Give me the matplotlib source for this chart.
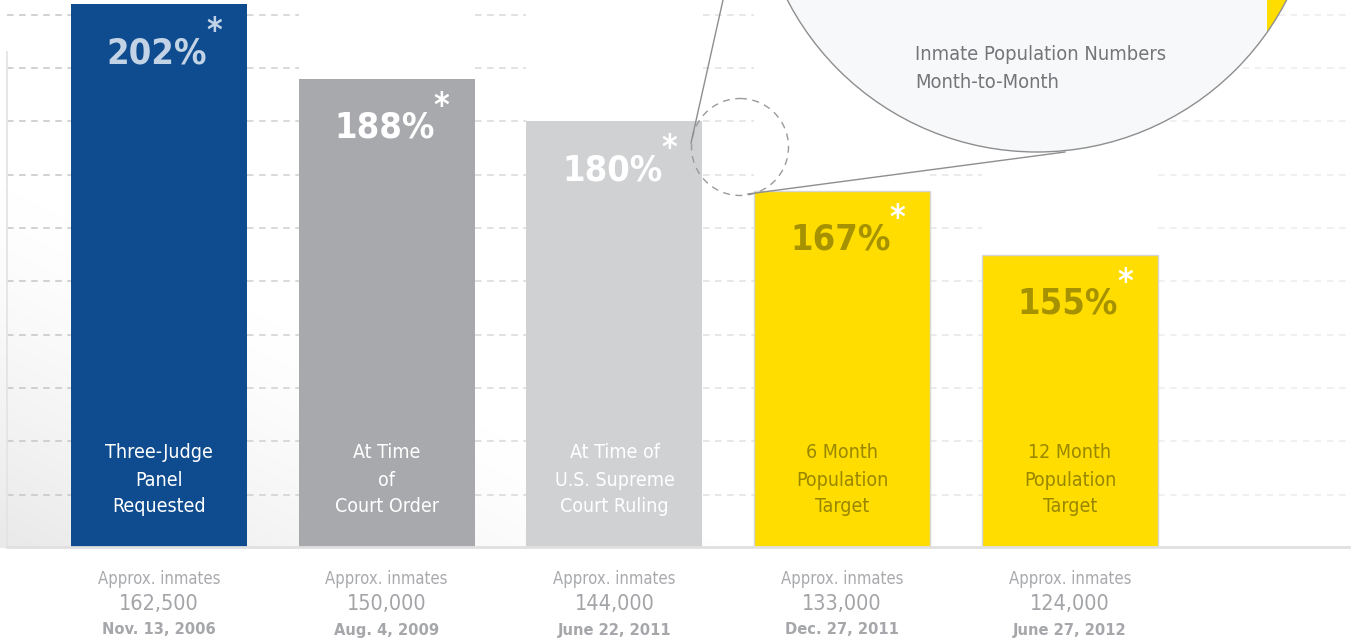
import matplotlib
matplotlib.use('Agg')
import numpy as np
import matplotlib.pyplot as plt
from matplotlib import transforms
from matplotlib.patches import Circle, Rectangle

# data
names = [["Three-Judge", "Panel", "Requested"],
         ["At Time", "of", "Court Order"],
         ["At Time of", "U.S. Supreme", "Court Ruling"],
         ["6 Month", "Population", "Target"],
         ["12 Month", "Population", "Target"]]
pct = [202, 188, 180, 167, 155]
inmates = ["162,500", "150,000", "144,000", "133,000", "124,000"]
dates = ["Nov. 13, 2006", "Aug. 4, 2009", "June 22, 2011", "Dec. 27, 2011", "June 27, 2012"]
grid_levels = [110, 120, 130, 140, 150, 160, 170, 180, 190, 200]

bar_colors = ['#0e4c8f', '#a8a9ac', '#d0d1d3', '#ffdd00', '#ffdd00']
pct_colors = ['#c3d3e6', 'white', 'white', '#a69200', '#a69200']
star_colors = ['#c3d3e6', 'white', 'white', 'white', 'white']
name_colors = ['white', 'white', 'white', '#9a8700', '#9a8700']

plt.rcParams['font.family'] = ['DejaVu Sans']
plt.rcParams['font.stretch'] = 'condensed'

W, H = 1351, 641
STEP = 227.75  # pixels between bar centres
PPU = 5.333    # pixels per percent

fig = plt.figure(figsize=(W / 100, H / 100), dpi=100)
ax = fig.add_axes([0, 93 / H, 1, 548 / H])
x0, x1 = -159 / STEP, (W - 159) / STEP
ytop = 100 + 548 / PPU
ax.set_xlim(x0, x1)
ax.set_ylim(100, ytop)
ax.axis('off')

# overlay in pixel coordinates (y down)
ov = fig.add_axes([0, 0, 1, 1], zorder=5)
ov.set_xlim(0, W)
ov.set_ylim(H, 0)
ov.axis('off')
ov.patch.set_alpha(0)

# background gradient, grey at bottom-left
px = np.linspace(0, W, 400)
py = np.linspace(0, 548, 200)
PX, PY = np.meshgrid(px, py)
d = np.clip(1 - (PX / 720 + (548 - PY) / 360), 0, 1) ** 1.3
shade = 1 - 0.085 * d
img = np.dstack([shade, shade, shade])
ax.imshow(img, extent=[x0, x1, 100, ytop], origin='upper',
          aspect='auto', zorder=0)

xs = np.arange(len(pct))
bw = 176 / STEP

# dashed grid lines in the gaps, fading to the right
gaps = [((7 - 159) / STEP, xs[0] - bw / 2)]
for i in range(len(xs) - 1):
    gaps.append((xs[i] + bw / 2, xs[i + 1] - bw / 2))
gaps.append((xs[-1] + bw / 2, x1))
gap_cols = ['#c6c6c6', '#d0d0d0', '#d8d8d8', '#e0e0e0', '#e6e6e6', '#ececec']
for (a, b), c in zip(gaps, gap_cols):
    ax.hlines(grid_levels, a, b, colors=c, linestyles=(0, (4.3, 3.6)), lw=1.1, zorder=1)

# axis lines
ax.plot([(7 - 159) / STEP] * 2, [100, 193], color='#e4e4e4', lw=1.3, zorder=1)
ax.plot([(7 - 159) / STEP, x1], [100.2, 100.2], color='#e0e0e0', lw=2, zorder=4, clip_on=False)

bars = ax.bar(xs, pct, width=bw, color=bar_colors, zorder=3)
for b in bars[3:]:
    b.set_edgecolor('#d6d6d6')
    b.set_linewidth(1)

yfix = transforms.blended_transform_factory(ax.transData, ov.transData)

for i, p in enumerate(pct):
    tr = transforms.offset_copy(ax.transData, fig, x=-2, y=-59, units='dots')
    ax.text(xs[i], p, f"{p}%", transform=tr, ha='center', va='baseline',
            fontsize=26, fontweight='bold', color=pct_colors[i], zorder=6)
    tr2 = transforms.offset_copy(ax.transData, fig, x=55, y=-37, units='dots')
    ax.text(xs[i], p, "*", transform=tr2, ha='center', va='baseline',
            fontsize=24, fontweight='bold', color=star_colors[i], zorder=6)
    for j, line in enumerate(names[i]):
        ax.text(xs[i], 453 + 27 * j, line, transform=yfix, ha='center', va='center',
                fontsize=14, color=name_colors[i], zorder=6)
    ax.text(xs[i], 579, "Approx. inmates", transform=yfix, ha='center', va='center',
            fontsize=12, color='#a9aaad', clip_on=False)
    ax.text(xs[i], 604, inmates[i], transform=yfix, ha='center', va='center',
            fontsize=15.5, color='#a3a4a7', clip_on=False)
    ax.text(xs[i], 630, dates[i], transform=yfix, ha='center', va='center',
            fontsize=11.8, fontweight='bold', color='#a6a7aa', clip_on=False)

# magnifier callout
big = Circle((1037, -129), 281, facecolor='#f7f8f9', edgecolor='none', zorder=2)
ov.add_patch(big)
yel = Rectangle((1267, -500), 400, 700, facecolor='#ffdd00', edgecolor='none', zorder=3)
ov.add_patch(yel)
yel.set_clip_path(big)
ov.add_patch(Circle((1037, -129), 281, fill=False, edgecolor='#8e8e8e', lw=1.0, zorder=4))
ov.add_patch(Circle((740, 147), 48.5, fill=False, edgecolor='#9a9a9a', lw=1.0,
                    linestyle=(0, (5, 4)), zorder=4))
ov.plot([723, 691], [0, 143], color='#8e8e8e', lw=1.0, zorder=4)
ov.plot([748, 1065], [194, 152], color='#8e8e8e', lw=1.0, zorder=4)
ov.text(915, 55, "Inmate Population Numbers", ha='left', va='center',
        fontsize=14.4, color='#747578', zorder=5)
ov.text(915, 83, "Month-to-Month", ha='left', va='center',
        fontsize=14.4, color='#747578', zorder=5)

fig.savefig('out.png', dpi=100)
